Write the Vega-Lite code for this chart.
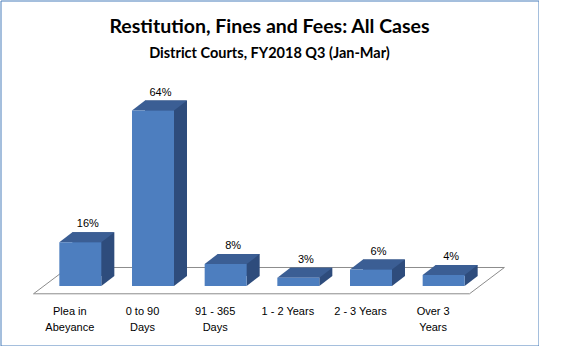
{
  "$schema": "https://vega.github.io/schema/vega-lite/v6.json",
  "width": 538,
  "height": 345,
  "autosize": {"type": "none"},
  "padding": {"left": 0.5, "top": 0.5, "right": 0, "bottom": 0},
  "background": "white",
  "view": {"stroke": "#4a7ebb", "strokeWidth": 1},
  "title": {
    "text": "Restitution, Fines and Fees: All Cases",
    "subtitle": "District Courts, FY2018 Q3 (Jan-Mar)",
    "anchor": "middle",
    "frame": "group",
    "offset": -61,
    "font": "Lato",
    "fontSize": 19.5,
    "fontWeight": "bold",
    "color": "black",
    "subtitleFont": "Lato",
    "subtitleFontSize": 14.5,
    "subtitleFontWeight": "bold",
    "subtitleColor": "black",
    "subtitlePadding": 10
  },
  "datasets": {
    "cases": [
      {"category": "Plea in Abeyance", "share": 0.16},
      {"category": "0 to 90 Days", "share": 0.64},
      {"category": "91 - 365 Days", "share": 0.08},
      {"category": "1 - 2 Years", "share": 0.03},
      {"category": "2 - 3 Years", "share": 0.06},
      {"category": "Over 3 Years", "share": 0.04}
    ],
    "floor": [
      {"corner": 1, "u": 0, "level": -0.0284},
      {"corner": 2, "u": 0.48, "level": 0.0675},
      {"corner": 3, "u": 6.48, "level": 0.0675},
      {"corner": 4, "u": 6, "level": -0.0284},
      {"corner": 5, "u": 0, "level": -0.0284}
    ]
  },
  "layer": [
    {
      "data": {"name": "floor"},
      "mark": {"type": "line", "color": "#8c8c8c", "strokeWidth": 1},
      "encoding": {
        "x": {"field": "u", "type": "quantitative", "axis": null, "scale": {"domain": [0, 6], "range": [33, 469], "nice": false, "zero": false}},
        "y": {"field": "level", "type": "quantitative", "axis": null, "scale": {"domain": [0, 0.64], "range": [285.5, 110], "nice": false, "zero": false}},
        "order": {"field": "corner"}
      }
    },
    {
      "data": {"name": "cases"},
      "encoding": {
        "x": {
          "field": "category",
          "type": "nominal",
          "sort": null,
          "scale": {"range": [33, 469], "paddingInner": 0, "paddingOuter": 0},
          "axis": {
            "orient": "bottom",
            "offset": -52,
            "title": null,
            "domain": false,
            "ticks": false,
            "grid": false,
            "labelAngle": 0,
            "labelPadding": 12,
            "labelFont": "Liberation Sans",
            "labelFontSize": 11,
            "labelColor": "black",
            "labelLineHeight": 16,
            "labelExpr": "datum.label == 'Plea in Abeyance' ? ['Plea in', 'Abeyance'] : datum.label == '0 to 90 Days' ? ['0 to 90', 'Days'] : datum.label == '91 - 365 Days' ? ['91 - 365', 'Days'] : datum.label == 'Over 3 Years' ? ['Over 3', 'Years'] : datum.label"
          }
        }
      },
      "layer": [
        {
          "mark": {"type": "bar", "width": 42, "xOffset": 23.5, "yOffset": -10, "y2Offset": -10, "color": "#2e4c7c"},
          "encoding": {
            "y": {"field": "share", "type": "quantitative", "axis": null},
            "y2": {"datum": 0}
          }
        },
        {
          "mark": {"type": "point", "shape": "M21,0L21,-10L34,-10Z", "size": 4, "filled": true, "opacity": 1, "strokeWidth": 0, "xOffset": 10.5, "color": "#2e4c7c"},
          "encoding": {
            "y": {"datum": 0, "type": "quantitative", "axis": null}
          }
        },
        {
          "mark": {"type": "point", "shape": "M-21,0L21,0L34,-10L-8,-10Z", "size": 4, "filled": true, "opacity": 1, "strokeWidth": 0, "xOffset": 10.5, "color": "#3b5e94"},
          "encoding": {
            "y": {"field": "share", "type": "quantitative", "axis": null}
          }
        },
        {
          "mark": {"type": "bar", "width": 42, "xOffset": 10.5, "color": "#4d7ebf"},
          "encoding": {
            "y": {"field": "share", "type": "quantitative", "axis": null},
            "y2": {"datum": 0}
          }
        },
        {
          "mark": {"type": "text", "xOffset": 18, "yOffset": -15, "baseline": "alphabetic", "font": "Liberation Sans", "fontSize": 11, "color": "black"},
          "encoding": {
            "y": {"field": "share", "type": "quantitative", "axis": null},
            "text": {"field": "share", "type": "quantitative", "format": ".0%"}
          }
        }
      ]
    }
  ],
  "resolve": {"scale": {"x": "independent"}}
}
